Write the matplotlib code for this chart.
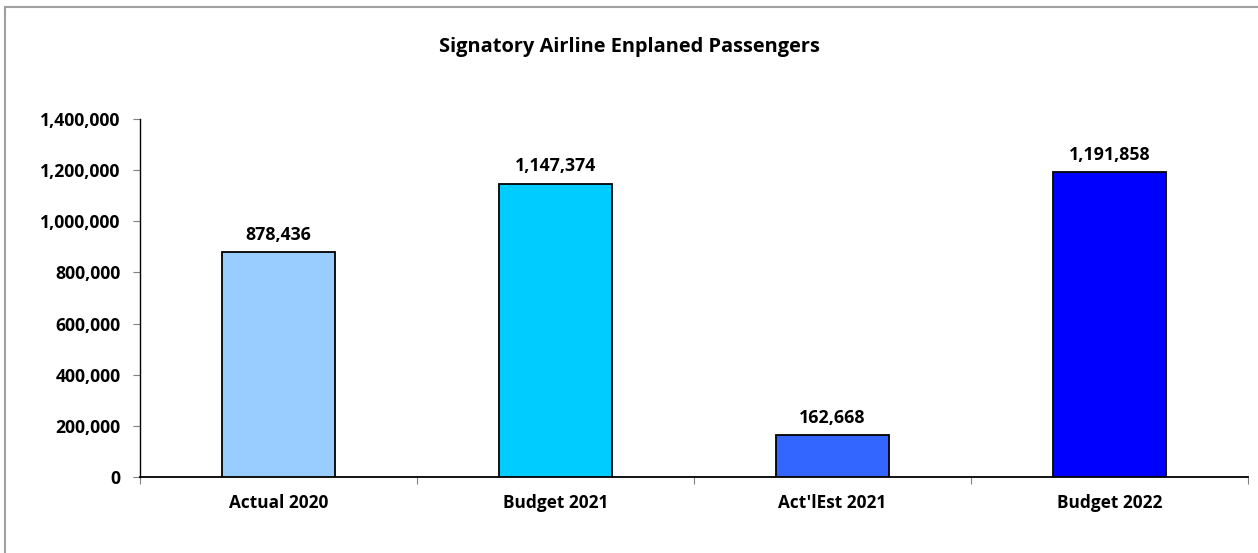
import matplotlib
matplotlib.use("Agg")
import matplotlib.pyplot as plt
from matplotlib.lines import Line2D
from matplotlib.ticker import FuncFormatter, MultipleLocator

categories = ["Actual 2020", "Budget 2021", "Act'lEst 2021", "Budget 2022"]
passengers = [878436, 1147374, 162668, 1191858]
bar_colors = ["#99CCFF", "#00CCFF", "#3366FF", "#0000FF"]
title = "Signatory Airline Enplaned Passengers"

plt.rcParams["font.family"] = ["Open Sans", "DejaVu Sans"]
plt.rcParams["font.weight"] = "bold"

fig = plt.figure(figsize=(12.58, 5.53), dpi=100)
ax = fig.add_axes([140 / 1258, 1 - 477 / 553, (1248 - 140) / 1258, (477 - 119) / 553])

x = list(range(len(categories)))
bars = ax.bar(x, passengers, width=0.405, color=bar_colors, edgecolor="black", linewidth=1.3, zorder=3)

for rect, val in zip(bars, passengers):
    ax.annotate("{:,}".format(val), (rect.get_x() + rect.get_width() / 2, val),
                xytext=(0, 6), textcoords="offset points", ha="center", va="bottom",
                fontsize=12.8, fontweight="bold")

ax.set_xlim(-0.5, len(categories) - 0.5)
ax.set_ylim(0, 1400000)
ax.yaxis.set_major_locator(MultipleLocator(200000))
ax.yaxis.set_major_formatter(FuncFormatter(lambda v, p: "{:,.0f}".format(v)))
ax.tick_params(axis="y", labelsize=12.7, length=5, width=0.8, color="#808080", pad=9)

# category labels at centres, tick marks between categories
ax.set_xticks(x)
ax.set_xticklabels(categories, fontsize=12.4, fontweight="bold")
ax.tick_params(axis="x", which="major", length=0, pad=12)
ax.set_xticks([i - 0.5 for i in range(len(categories) + 1)], minor=True)
ax.tick_params(axis="x", which="minor", length=5, width=0.8, color="#808080")
for lbl in ax.get_yticklabels():
    lbl.set_fontweight("bold")

ax.spines["top"].set_visible(False)
ax.spines["right"].set_visible(False)
ax.spines["left"].set_linewidth(1.0)
ax.spines["bottom"].set_linewidth(1.3)

fig.text(0.5, 1 - 47 / 553, title, ha="center", va="center", fontsize=14.4, fontweight="bold")

# outer chart frame (only top and left edges visible)
fig.add_artist(Line2D([5 / 1258, 1], [1 - 7 / 553, 1 - 7 / 553], transform=fig.transFigure,
                      color="#A0A0A0", linewidth=1.5))
fig.add_artist(Line2D([5 / 1258, 5 / 1258], [0, 1 - 7 / 553], transform=fig.transFigure,
                      color="#A0A0A0", linewidth=1.5))

fig.savefig("out.png", dpi=100)
